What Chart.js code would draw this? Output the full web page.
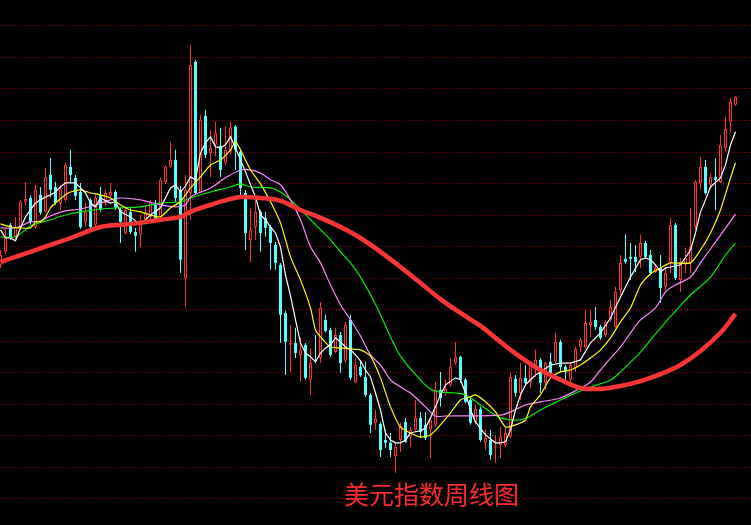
<!DOCTYPE html>
<html>
<head>
<meta charset="utf-8">
<title>美元指数周线图</title>
<script src="https://cdn.jsdelivr.net/npm/chart.js@4.4.1/dist/chart.umd.min.js"></script>
<style>
  html, body { margin: 0; padding: 0; background: #000; }
  #wrap { position: relative; width: 751px; height: 525px; overflow: hidden; background: #000; }
  #caption { position: absolute; left: 344px; top: 481px; font: 25px/25px "Noto Sans CJK SC", sans-serif; color: #ff2a2a; white-space: nowrap; }
</style>
</head>
<body>
<div id="wrap">
  <canvas id="kline"></canvas>
  <div id="caption">美元指数周线图</div>
</div>
<script>
// ========== weekly candles (Jun 2019 - Apr 2022) ==========
const open = [
  96.42, 96.83, 97.69, 97.31, 97.59, 98.42, 98.54, 97.62, 98.64, 98.10,
  99.27, 98.89, 98.38, 98.48, 99.53, 99.18, 98.73, 97.78, 98.48, 97.69,
  98.64, 98.38, 98.61, 98.73, 98.16, 97.43, 98.10, 97.46, 97.37, 97.85,
  97.94, 98.32, 97.94, 99.05, 99.53, 99.75, 98.80, 96.00, 98.70, 102.86,
  98.73, 101.15, 99.97, 100.23, 100.20, 99.66, 100.01, 100.80, 100.01, 98.70,
  97.21, 97.62, 98.10, 97.91, 97.62, 97.05, 96.42, 94.89, 93.88, 93.94,
  93.56, 93.88, 92.77, 93.40, 93.46, 94.67, 94.35, 93.65, 94.19, 93.37,
  94.67, 92.70, 93.18, 92.86, 92.29, 91.40, 91.37, 90.86, 90.77, 90.35,
  90.86, 91.43, 90.96, 91.18, 91.56, 91.34, 91.18, 91.34, 92.45, 92.35,
  92.61, 93.30, 93.50, 92.77, 92.13, 91.43, 91.84, 90.77, 90.86, 90.61,
  90.70, 90.70, 90.96, 92.80, 92.35, 92.83, 92.70, 93.24, 93.40, 92.67,
  93.34, 93.34, 93.97, 93.18, 92.77, 93.14, 93.81, 93.81, 94.51, 94.67,
  94.45, 94.19, 94.67, 94.45, 95.62, 96.61, 96.67, 96.67, 96.67, 97.11,
  96.73, 96.19, 96.32, 95.72, 96.48, 97.69, 95.94, 96.42, 96.48, 97.65,
  99.02, 99.53, 98.96, 99.21, 99.05, 100.13, 100.96, 101.50
];
const high = [
  96.89, 97.56, 97.75, 97.94, 98.48, 99.05, 98.61, 98.96, 98.89, 99.50,
  99.81, 99.05, 98.96, 99.66, 100.07, 99.27, 99.02, 98.38, 98.54, 98.64,
  98.89, 98.80, 99.02, 98.80, 98.23, 98.26, 98.23, 97.59, 98.00, 98.32,
  98.48, 98.48, 99.18, 99.59, 100.32, 100.07, 98.92, 99.27, 103.37, 102.93,
  101.18, 101.34, 100.70, 100.96, 100.77, 100.80, 100.96, 100.86, 100.07, 98.80,
  98.23, 98.48, 98.16, 98.10, 97.69, 97.14, 96.48, 94.96, 94.51, 94.42,
  94.10, 93.94, 93.78, 94.19, 95.24, 94.83, 94.42, 94.42, 94.29, 94.61,
  94.83, 93.46, 93.34, 93.34, 92.35, 91.81, 91.43, 91.18, 91.08, 90.77,
  91.40, 91.56, 91.27, 92.13, 91.75, 91.75, 91.56, 92.70, 93.02, 92.77,
  93.46, 93.97, 93.53, 92.83, 92.23, 91.97, 91.91, 91.18, 91.18, 91.02,
  91.27, 91.27, 92.99, 92.92, 93.30, 93.24, 93.34, 93.72, 93.46, 93.34,
  93.62, 94.26, 94.04, 93.24, 93.34, 93.81, 94.10, 94.99, 94.99, 95.08,
  94.51, 94.67, 95.31, 95.72, 96.73, 97.40, 97.11, 97.05, 97.37, 97.18,
  96.89, 96.42, 96.73, 96.35, 97.91, 97.75, 96.64, 96.96, 98.23, 99.12,
  99.85, 99.75, 99.31, 99.81, 100.54, 101.12, 101.72, 101.78
];
const low = [
  96.32, 96.76, 97.21, 97.24, 97.53, 98.32, 97.69, 97.56, 98.00, 98.07,
  98.57, 98.32, 98.16, 98.42, 99.02, 98.48, 97.56, 97.62, 97.53, 97.59,
  98.10, 98.26, 98.57, 98.16, 97.11, 97.37, 97.40, 96.83, 96.99, 97.78,
  97.78, 97.78, 97.91, 98.99, 99.50, 98.42, 96.16, 95.08, 97.85, 98.64,
  98.70, 99.81, 99.21, 99.85, 99.21, 99.59, 99.94, 99.43, 98.57, 96.89,
  96.51, 97.21, 96.83, 97.31, 96.26, 96.26, 93.94, 92.92, 93.02, 93.46,
  92.70, 92.77, 92.29, 93.30, 93.30, 94.29, 93.50, 93.62, 92.99, 93.30,
  92.77, 92.67, 92.86, 92.23, 91.08, 91.18, 90.32, 90.61, 90.32, 89.81,
  90.48, 90.77, 90.64, 91.12, 90.92, 90.86, 90.29, 91.27, 91.91, 92.26,
  92.54, 93.24, 92.67, 92.03, 91.34, 91.34, 90.80, 90.54, 90.23, 90.13,
  90.29, 90.64, 90.92, 92.23, 92.13, 92.61, 92.51, 92.86, 92.35, 92.45,
  92.92, 93.30, 93.02, 92.77, 92.67, 93.02, 93.65, 93.78, 94.13, 94.35,
  94.04, 94.13, 94.61, 94.42, 95.46, 96.45, 95.94, 96.19, 96.32, 96.64,
  96.07, 96.16, 95.21, 95.62, 96.16, 95.94, 95.56, 96.16, 96.16, 97.53,
  98.80, 98.64, 98.89, 98.16, 99.02, 100.01, 100.61, 101.47
];
const close = [
  96.73, 97.31, 97.27, 97.62, 98.42, 98.51, 97.78, 98.80, 98.07, 99.21,
  98.80, 98.38, 98.80, 99.59, 99.27, 98.61, 97.62, 98.10, 97.62, 98.54,
  98.16, 98.70, 98.73, 98.23, 97.78, 98.16, 97.46, 97.34, 97.75, 98.07,
  98.42, 97.85, 99.12, 99.53, 99.75, 98.54, 96.58, 98.80, 102.77, 98.70,
  101.02, 99.91, 100.13, 100.61, 99.43, 100.07, 100.77, 100.07, 98.86, 97.43,
  97.53, 98.10, 97.43, 97.59, 97.11, 96.48, 94.83, 93.97, 93.94, 93.62,
  93.72, 92.83, 93.30, 93.37, 95.05, 94.32, 93.56, 94.19, 93.30, 94.51,
  92.83, 93.24, 92.92, 92.29, 91.34, 91.53, 90.54, 90.77, 90.54, 90.64,
  91.30, 90.80, 91.18, 91.56, 91.12, 90.92, 91.50, 92.45, 92.19, 92.48,
  93.18, 93.50, 92.77, 92.07, 91.40, 91.84, 90.86, 90.92, 90.38, 90.64,
  90.96, 91.08, 92.86, 92.35, 92.83, 92.67, 93.24, 93.40, 92.67, 93.30,
  92.99, 93.97, 93.18, 93.02, 93.24, 93.75, 94.04, 94.58, 94.61, 94.45,
  94.10, 94.61, 95.08, 95.56, 96.48, 96.51, 96.61, 96.51, 97.11, 96.67,
  96.16, 96.32, 95.68, 96.16, 97.69, 96.00, 96.51, 96.64, 96.99, 99.05,
  99.53, 98.70, 99.21, 99.12, 100.23, 100.73, 101.59, 101.75
];

// ========== moving averages as [week, value] ==========
const ma5 = [[0,97.53],[1,97.27],[2,97.27],[3,97.18],[4,97.59],[5,97.94],[6,98.16],[7,98.38],[8,98.48],[9,98.57],[10,98.64],[11,98.73],[12,98.89],[13,99.02],[14,99.02],[15,99.02],[16,98.86],[17,98.70],[18,98.38],[19,98.26],[20,98.54],[22,98.38],[23,98.42],[24,98.10],[26,97.94],[28,97.69],[29,97.85],[30,98.00],[32,98.23],[34,98.86],[35,98.96],[36,98.73],[37,98.92],[38,99.21],[39,99.12],[40,99.97],[41,100.29],[42,100.48],[43,100.16],[44,100.13],[45,100.23],[46,100.48],[47,100.13],[48,99.75],[49,99.37],[50,98.96],[51,98.57],[52,98.00],[53,97.85],[54,97.62],[55,97.43],[56,96.99],[57,96.10],[58,95.43],[59,94.67],[60,93.94],[61,93.62],[62,93.50],[63,93.34],[64,93.62],[65,93.78],[66,93.88],[67,94.10],[68,93.97],[69,93.81],[70,93.72],[71,93.56],[72,93.37],[73,93.08],[74,92.86],[75,92.35],[76,91.81],[77,91.08],[78,90.86],[79,90.77],[80,90.77],[81,90.86],[82,91.08],[83,91.12],[84,91.15],[85,91.24],[86,91.56],[87,91.91],[88,92.29],[89,92.61],[91,92.83],[92,92.77],[93,92.35],[94,91.81],[95,91.43],[97,91.02],[99,90.77],[100,90.77],[101,90.80],[102,91.18],[103,91.81],[104,92.29],[105,92.61],[106,92.77],[107,92.92],[108,93.02],[110,93.24],[112,93.30],[114,93.30],[116,93.40],[118,93.94],[120,94.26],[122,94.73],[124,95.40],[126,96.03],[128,96.58],[129,96.64],[130,96.58],[131,96.42],[132,96.19],[133,96.32],[134,96.35],[136,96.42],[138,96.89],[139,97.43],[140,98.10],[141,98.48],[142,98.89],[144,99.18],[145,99.59],[146,100.23],[147,100.64]];
const ma10 = [[0,97.72],[2,97.62],[4,97.59],[6,97.59],[7,97.78],[8,97.78],[9,97.94],[10,98.23],[11,98.38],[13,98.64],[14,98.73],[16,98.80],[18,98.70],[20,98.64],[22,98.54],[24,98.32],[26,98.16],[28,98.10],[30,98.00],[32,97.94],[34,98.23],[36,98.42],[38,98.86],[40,99.21],[42,99.59],[44,99.75],[46,100.07],[47,100.32],[48,100.07],[50,99.43],[52,98.99],[54,98.42],[56,97.75],[58,96.67],[60,95.94],[62,95.05],[63,94.35],[64,94.13],[66,93.81],[68,93.78],[70,93.75],[72,93.72],[74,93.52],[76,92.83],[78,91.91],[80,91.27],[82,91.08],[84,90.95],[86,91.02],[88,91.34],[90,91.72],[92,92.13],[94,92.23],[95,92.29],[97,92.07],[99,91.75],[101,91.27],[103,91.34],[105,91.50],[106,91.91],[108,92.29],[110,92.83],[112,93.02],[114,93.08],[116,93.24],[118,93.46],[120,93.72],[122,94.10],[124,94.61],[126,95.05],[128,95.78],[130,96.13],[132,96.32],[134,96.48],[138,96.48],[140,96.89],[142,97.43],[144,98.16],[146,99.18],[147,99.66]];
const ma20 = [[0,97.59],[3,97.59],[6,97.78],[8,97.81],[10,97.97],[13,98.13],[16,98.19],[19,98.32],[22,98.48],[24,98.54],[28,98.48],[32,98.32],[35,98.26],[37,98.32],[38,98.57],[42,98.86],[45,99.18],[48,99.43],[50,99.43],[52,99.33],[54,99.12],[56,98.96],[58,98.48],[60,97.85],[62,96.99],[64,96.48],[66,95.78],[68,95.15],[70,94.67],[72,94.16],[74,93.56],[76,93.24],[78,92.77],[80,92.54],[82,92.35],[85,91.91],[87,91.62],[89,91.62],[100,91.65],[102,91.75],[105,91.97],[108,92.07],[112,92.19],[116,92.51],[118,92.70],[120,93.08],[122,93.46],[124,93.81],[126,94.26],[128,94.67],[131,95.05],[133,95.56],[135,95.78],[138,96.03],[140,96.48],[143,97.14],[147,98.03]];
const ma30 = [[0,97.31],[3,97.31],[6,97.65],[10,97.85],[13,98.00],[16,98.10],[20,98.19],[24,98.23],[28,98.26],[32,98.38],[36,98.42],[38,98.54],[42,98.73],[46,98.89],[48,98.99],[50,98.89],[54,98.86],[56,98.73],[58,98.48],[62,97.85],[66,97.21],[68,96.83],[70,96.48],[72,96.03],[75,95.17],[78,94.13],[80,93.52],[84,92.76],[86,92.48],[88,92.38],[91,92.35],[93,92.29],[96,91.97],[98,91.75],[100,91.56],[102,91.50],[104,91.50],[106,91.62],[108,91.81],[110,91.97],[115,92.35],[118,92.54],[122,92.76],[124,93.02],[126,93.33],[128,93.65],[130,94.03],[133,94.60],[135,94.95],[138,95.46],[142,96.03],[145,96.73],[147,97.11]];
const ma60 = [[0,96.51],[6,96.83],[10,97.05],[14,97.27],[20,97.62],[24,97.69],[28,97.75],[32,97.85],[36,97.94],[38,98.10],[42,98.32],[46,98.51],[48,98.57],[52,98.54],[56,98.45],[60,98.16],[64,97.91],[68,97.62],[72,97.27],[76,96.83],[80,96.35],[84,95.84],[88,95.33],[92,94.89],[96,94.48],[100,93.97],[104,93.49],[108,93.08],[112,92.77],[116,92.51],[120,92.48],[124,92.57],[128,92.73],[132,92.95],[136,93.24],[140,93.68],[144,94.26],[147,94.86]];

// horizontal guide levels
const gridLevels = [89, 90, 91, 92, 93, 94, 95, 96, 97, 98, 99, 100, 101, 102, 103, 104];

const firstWeek = Date.UTC(2019, 5, 24);
const weeks = open.map((_, i) => new Date(firstWeek + i * 7 * 864e5).toISOString().slice(0, 10));

const UP = "#ff3232";
const DOWN = "#54ffff";
const isUp = i => close[i] >= open[i];

const wicks = weeks.map((w, i) => ({ x: i, y: [low[i], high[i]] }));
const bodies = weeks.map((w, i) => ({ x: i, y: [open[i], close[i]] }));

function maLine(label, pts, color, width, tension, order) {
  return {
    type: "line",
    label: label,
    data: pts.map(p => ({ x: p[0], y: p[1] })),
    borderColor: color,
    borderWidth: width,
    pointRadius: 0,
    tension: tension,
    fill: false,
    order: order
  };
}

new Chart(document.getElementById("kline"), {
  type: "bar",
  data: {
    datasets: [
      {
        label: "wick",
        data: wicks,
        barThickness: 1,
        grouped: false,
        inflateAmount: 0,
        borderWidth: 0,
        backgroundColor: ctx => isUp(ctx.dataIndex) ? UP : DOWN,
        order: 10
      },
      {
        label: "body",
        data: bodies,
        barThickness: 3,
        minBarLength: 1,
        grouped: false,
        inflateAmount: 0,
        borderSkipped: false,
        borderWidth: ctx => isUp(ctx.dataIndex) ? 1 : 0,
        borderColor: ctx => isUp(ctx.dataIndex) ? UP : DOWN,
        backgroundColor: ctx => isUp(ctx.dataIndex) ? "#000000" : DOWN,
        order: 9
      },
      maLine("MA30", ma30, "#00f000", 1.2, 0.3, 5),
      maLine("MA20", ma20, "#ff88ff", 1.2, 0.3, 4),
      maLine("MA10", ma10, "#ffff00", 1.2, 0.2, 3),
      maLine("MA5", ma5, "#ffffff", 1.2, 0, 2),
      maLine("MA60", ma60, "#ff3434", 4.5, 0.35, 1)
    ]
  },
  options: {
    responsive: true,
    maintainAspectRatio: false,
    animation: false,
    layout: { padding: 0 },
    plugins: {
      legend: { display: false },
      tooltip: { enabled: false }
    },
    scales: {
      x: {
        type: "linear",
        min: -0.1,
        max: 150.1,
        offset: false,
        display: false
      },
      y: {
        min: 88.16,
        max: 104.825,
        ticks: { display: false },
        grid: { color: "#990000", lineWidth: 1, drawTicks: false },
        border: { display: false, dash: [1, 2] },
        afterBuildTicks: axis => { axis.ticks = gridLevels.map(v => ({ value: v })); },
        afterFit: axis => { axis.width = 0; }
      }
    }
  }
});
</script>
</body>
</html>
